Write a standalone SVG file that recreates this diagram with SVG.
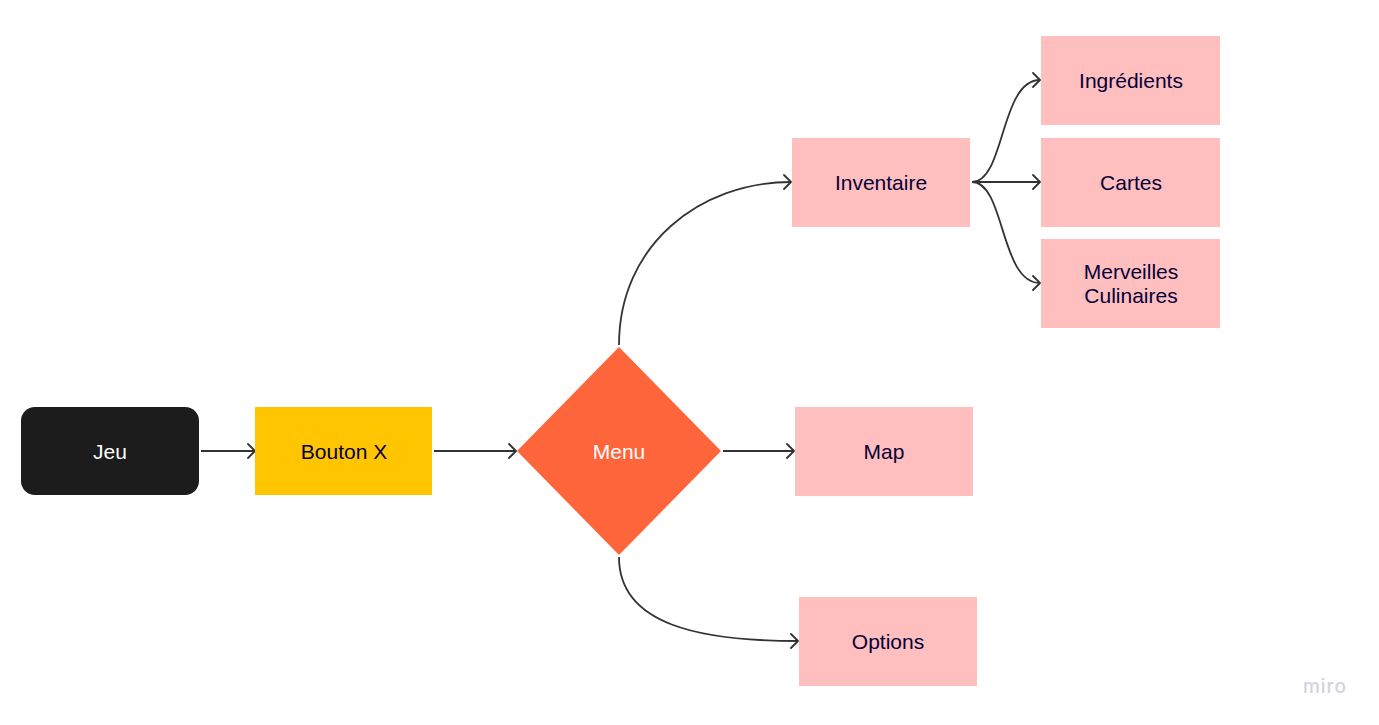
<svg xmlns="http://www.w3.org/2000/svg" width="1379" height="725" viewBox="0 0 1379 725">
<style>
.lbl{font-family:"Liberation Sans",Arial,sans-serif;font-size:21px;fill:#050038;text-anchor:middle;dominant-baseline:central}
.pink{fill:#ffbfbf}
.con{fill:none;stroke:#333333;stroke-width:1.8}
</style>
<defs>
<marker id="arr" markerWidth="12" markerHeight="16" refX="9" refY="8" orient="auto" markerUnits="userSpaceOnUse">
<path d="M2,1 L9,8 L2,15" fill="none" stroke="#333333" stroke-width="1.8" stroke-linecap="round" stroke-linejoin="round"/>
</marker>
</defs>
<rect width="1379" height="725" fill="#ffffff"/>
<g id="connectors">
<path class="con" marker-end="url(#arr)" d="M201,451 L255,451"/>
<path class="con" marker-end="url(#arr)" d="M434,451 L516,451"/>
<path class="con" marker-end="url(#arr)" d="M723,451 L794,451"/>
<path class="con" marker-end="url(#arr)" d="M619,345 C619,245 700,182 791,182"/>
<path class="con" marker-end="url(#arr)" d="M619,557 C619,625 700,641 798,641"/>
<path class="con" marker-end="url(#arr)" d="M972,182 C1005,182 1000,80 1040,80"/>
<path class="con" marker-end="url(#arr)" d="M972,182 L1040,182"/>
<path class="con" marker-end="url(#arr)" d="M972,182 C1005,182 1000,283 1040,283"/>
</g>
<g id="jeu"><rect x="21" y="407" width="178" height="88" rx="14" fill="#1c1c1c"/><text class="lbl" x="110" y="451" style="fill:#ffffff">Jeu</text></g>
<g id="bouton"><rect x="255" y="407" width="177" height="88" fill="#ffc600"/><text class="lbl" x="344" y="451">Bouton X</text></g>
<g id="menu"><polygon points="619,347 721,451 619,555 517,451" fill="#ff653b"/><text class="lbl" x="619" y="451" style="fill:#ffffff">Menu</text></g>
<g id="inventaire"><rect class="pink" x="792" y="138" width="178" height="89"/><text class="lbl" x="881" y="182">Inventaire</text></g>
<g id="ingredients"><rect class="pink" x="1041" y="36" width="179" height="89"/><text class="lbl" x="1131" y="80">Ingrédients</text></g>
<g id="cartes"><rect class="pink" x="1041" y="138" width="179" height="89"/><text class="lbl" x="1131" y="182">Cartes</text></g>
<g id="merveilles"><rect class="pink" x="1041" y="239" width="179" height="89"/><text class="lbl" x="1131" y="271">Merveilles</text><text class="lbl" x="1131" y="295">Culinaires</text></g>
<g id="map"><rect class="pink" x="795" y="407" width="178" height="89"/><text class="lbl" x="884" y="451">Map</text></g>
<g id="options"><rect class="pink" x="799" y="597" width="178" height="89"/><text class="lbl" x="888" y="641">Options</text></g>
<text x="1325" y="693" font-family="Inter,'Liberation Sans',sans-serif" font-size="19" font-weight="500" fill="#d2d2e0" text-anchor="middle" letter-spacing="1">miro</text>
</svg>
